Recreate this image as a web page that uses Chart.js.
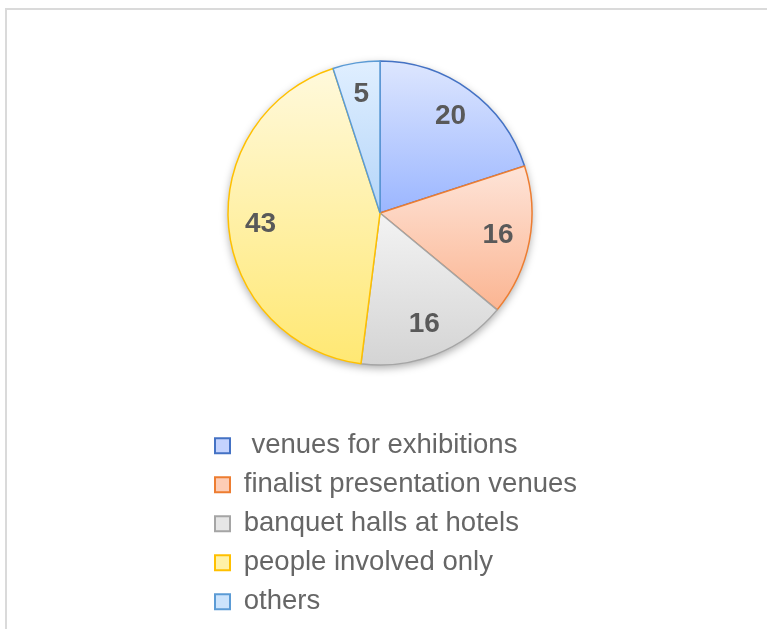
<!DOCTYPE html>
<html>
<head>
<meta charset="utf-8">
<script src="https://cdn.jsdelivr.net/npm/chart.js@4.4.1/dist/chart.umd.min.js"></script>
<style>
  html, body { margin: 0; padding: 0; background: #fff; }
  #frame { position: absolute; left: 5px; top: 8px; width: 900px; height: 900px; border: 2px solid #dadada; }
  #pieChart { position: absolute; left: 0; top: 0; }
</style>
</head>
<body>
<div id="frame"></div>
<canvas id="pieChart" width="767" height="629"></canvas>
<script>
// categories and shares (percent)
const categories = [' venues for exhibitions', 'finalist presentation venues', 'banquet halls at hotels', 'people involved only', 'others'];
const shares = [20, 16, 16, 43, 5];

// slice styling
const edgeColors = ['#4472c4', '#ed7d31', '#a5a5a5', '#ffc000', '#5b9bd5'];
const lightTones = ['#dde6fe', '#fee4d8', '#f3f3f3', '#fff9dc', '#e0efff'];
const deepTones = ['#9bb6ff', '#fbb592', '#d4d4d4', '#ffe873', '#b4d5f9'];
const boxTones = ['#c4d3fe', '#fdcdb6', '#e6e6e6', '#fff2a8', '#cbe3fc'];

const FONT = "'Liberation Sans', Arial, sans-serif";

// top/bottom of a slice, used to stretch its gradient
function sliceBounds(arc) {
    const {x, y, startAngle, endAngle, outerRadius} = arc;
    let top = Math.min(y, y + outerRadius * Math.sin(startAngle), y + outerRadius * Math.sin(endAngle));
    let bottom = Math.max(y, y + outerRadius * Math.sin(startAngle), y + outerRadius * Math.sin(endAngle));
    const covers = function(a) {
        let t = a - 4 * Math.PI;
        while (t < startAngle) t += 2 * Math.PI;
        return t <= endAngle + 1e-9;
    };
    if (covers(-Math.PI / 2)) top = y - outerRadius;
    if (covers(Math.PI / 2)) bottom = y + outerRadius;
    return {top, bottom};
}

// soft shadow under the pie + gradient fill for every slice
const pieShading = {
    id: 'pieShading',
    beforeDatasetsDraw(chart) {
        const ctx = chart.ctx;
        const arcs = chart.getDatasetMeta(0).data;
        const a0 = arcs[0];
        ctx.save();
        ctx.shadowColor = 'rgba(0,0,0,0.35)';
        ctx.shadowBlur = 8;
        ctx.shadowOffsetY = 3;
        ctx.fillStyle = '#fff';
        ctx.beginPath();
        ctx.arc(a0.x, a0.y, a0.outerRadius, 0, 2 * Math.PI);
        ctx.fill();
        ctx.restore();

        arcs.forEach((arc, i) => {
            const b = sliceBounds(arc);
            const g = ctx.createLinearGradient(0, b.top, 0, b.bottom);
            g.addColorStop(0, lightTones[i]);
            g.addColorStop(1, deepTones[i]);
            arc.options.backgroundColor = g;
        });
    }
};

// value labels inside the slices
const valueLabels = {
    id: 'valueLabels',
    afterDatasetsDraw(chart) {
        const ctx = chart.ctx;
        ctx.save();
        ctx.font = 'bold 28px ' + FONT;
        ctx.fillStyle = '#595959';
        ctx.textAlign = 'center';
        ctx.textBaseline = 'middle';
        chart.getDatasetMeta(0).data.forEach((arc, i) => {
            const mid = (arc.startAngle + arc.endAngle) / 2;
            const r = arc.outerRadius * 0.79;
            ctx.fillText(String(shares[i]), arc.x + r * Math.cos(mid), arc.y + r * Math.sin(mid));
        });
        ctx.restore();
    }
};

new Chart(document.getElementById('pieChart'), {
    type: 'pie',
    data: {
        labels: categories,
        datasets: [{
            data: shares,
            backgroundColor: boxTones,
            borderColor: edgeColors,
            borderWidth: 1.5,
            radius: 152,
            hoverOffset: 0
        }]
    },
    options: {
        responsive: false,
        animation: false,
        events: [],
        layout: {
            padding: { left: 203.5, right: 175.5, top: 5.5, bottom: 3.5 }
        },
        plugins: {
            tooltip: { enabled: false },
            // empty spacer on the right so the pie sits left of the legend's centre
            title: {
                display: true,
                position: 'right',
                text: '',
                font: { size: 10, lineHeight: 1.2 },
                padding: { top: 11.5, bottom: 11.5 }
            },
            legend: {
                position: 'bottom',
                align: 'start',
                labels: {
                    boxWidth: 15,
                    boxHeight: 15,
                    padding: 11.5,
                    color: '#666666',
                    font: { family: FONT, size: 27.5 },
                    generateLabels(chart) {
                        const items = Chart.overrides.pie.plugins.legend.labels.generateLabels(chart);
                        items.forEach((it, i) => {
                            it.fillStyle = boxTones[i];
                            it.strokeStyle = edgeColors[i];
                            it.lineWidth = 2;
                        });
                        return items;
                    }
                }
            }
        }
    },
    plugins: [pieShading, valueLabels]
});
</script>
</body>
</html>
